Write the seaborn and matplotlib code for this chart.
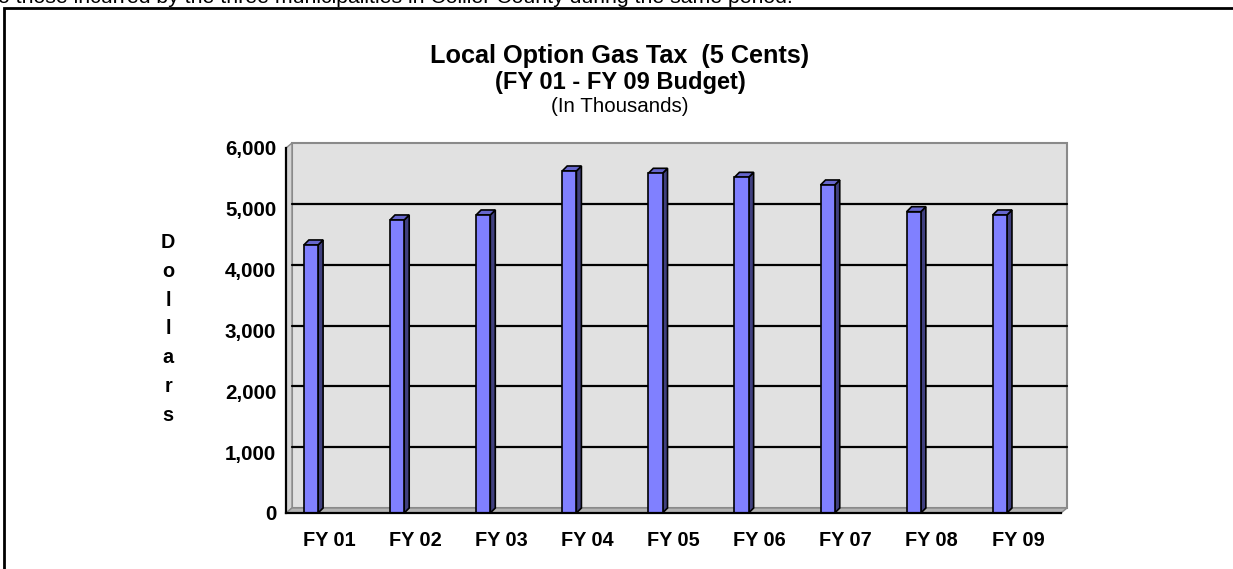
import numpy as np
import matplotlib
matplotlib.use('Agg')
import matplotlib.pyplot as plt
import matplotlib.patches as mpatches
import pandas as pd
import seaborn as sns

# chart data (in thousands of dollars)
years = ['FY 01', 'FY 02', 'FY 03', 'FY 04', 'FY 05', 'FY 06', 'FY 07', 'FY 08', 'FY 09']
revenue = [4406, 4817, 4899, 5622, 5584, 5518, 5392, 4953, 4899]
yticks = [0, 1000, 2000, 3000, 4000, 5000, 6000]

sns.set_style('white')
plt.rcParams['font.family'] = ['Liberation Sans', 'DejaVu Sans']
plt.rcParams['text.color'] = 'black'
plt.rcParams['xtick.color'] = 'black'
plt.rcParams['ytick.color'] = 'black'

W, H = 1233, 569
fig = plt.figure(figsize=(W / 100, H / 100), dpi=100)

# front plane of the chart in pixels
x0, x1, y0, y1 = 286, 1061, 513, 148
ax = fig.add_axes([x0 / W, 1 - y0 / H, (x1 - x0) / W, (y0 - y1) / H])
ax.set_xlim(-0.5, 8.5)
ax.set_ylim(0, 6000)
ax.patch.set_visible(False)

# depth offset (px -> data units)
dx = 6 * 9 / (x1 - x0)
dy = 5 * 6000 / (y0 - y1)

# back wall, side wall, floor
ax.add_patch(mpatches.Rectangle((-0.5 + dx, dy), 9, 6000, facecolor='#e1e1e1',
                                edgecolor='#8a8a8a', lw=1.5, zorder=0, clip_on=False))
ax.add_patch(mpatches.Polygon([(-0.5, 0), (-0.5 + dx, dy), (-0.5 + dx, 6000 + dy), (-0.5, 6000)],
                              closed=True, facecolor='#d4d4d4', edgecolor='#8a8a8a', lw=1,
                              zorder=0.5, clip_on=False))
ax.add_patch(mpatches.Polygon([(-0.5, 0), (8.5, 0), (8.5 + dx, dy), (-0.5 + dx, dy)],
                              closed=True, facecolor='#b4b4b4', edgecolor='#8a8a8a', lw=1,
                              zorder=0.5, clip_on=False))
for t in yticks[1:-1]:
    ax.plot([-0.5 + dx, 8.5 + dx], [t + dy, t + dy], color='black', lw=1.6, zorder=0.7, clip_on=False)

df = pd.DataFrame({'year': years, 'revenue': revenue})
sns.barplot(data=df, x='year', y='revenue', ax=ax, color='#8080ff', saturation=1,
            width=0.165, edgecolor='black', linewidth=1.2, zorder=2)

# shift the bars left like the original and add the 3-d faces
bdx = 5 * 9 / (x1 - x0)
bdy = 5 * 6000 / (y0 - y1)
for p in ax.patches:
    if not isinstance(p, mpatches.Rectangle) or p.get_zorder() != 2:
        continue
    p.set_x(p.get_x() - 0.21)
    bx, bw, bh = p.get_x(), p.get_width(), p.get_height()
    side = [(bx + bw, 0), (bx + bw + bdx, bdy), (bx + bw + bdx, bh + bdy), (bx + bw, bh)]
    top = [(bx, bh), (bx + bw, bh), (bx + bw + bdx, bh + bdy), (bx + bdx, bh + bdy)]
    ax.add_patch(mpatches.Polygon(side, closed=True, facecolor='#40407f', edgecolor='black',
                                  lw=1.2, zorder=1.9))
    ax.add_patch(mpatches.Polygon(top, closed=True, facecolor='#6666cc', edgecolor='black',
                                  lw=1.2, zorder=1.9))

for s in ['top', 'right']:
    ax.spines[s].set_visible(False)
for s in ['left', 'bottom']:
    ax.spines[s].set_color('black')
    ax.spines[s].set_linewidth(1.6)

ax.set_yticks(yticks)
ax.set_yticklabels(['{:,}'.format(t) for t in yticks], fontweight='bold', fontsize=14.8)
ax.tick_params(axis='y', direction='out', length=6, width=1.4, pad=1, color='black')
ax.set_xticks(np.arange(-0.5, 9, 1))
ax.set_xticklabels([])
ax.tick_params(axis='x', which='major', direction='out', length=7, width=1.4, color='black')
ax.set_xticks(np.arange(9), minor=True)
ax.set_xticklabels(years, minor=True, fontweight='bold', fontsize=14.3)
ax.tick_params(axis='x', which='minor', length=0, pad=13)
ax.set_xlabel('')
ax.set_ylabel('')

fig.text(168 / W, 1 - 329 / H, '\n'.join('Dollars'), ha='center', va='center',
         fontweight='bold', fontsize=14.3, linespacing=1.66)

cx = 620 / W
fig.text(cx, 1 - 56 / H, 'Local Option Gas Tax  (5 Cents)', ha='center', va='center',
         fontweight='bold', fontsize=18.2)
fig.text(cx, 1 - 83 / H, '(FY 01 - FY 09 Budget)', ha='center', va='center',
         fontweight='bold', fontsize=17)
fig.text(cx, 1 - 107 / H, '(In Thousands)', ha='center', va='center', fontsize=14.8)

# clipped line of page text above the chart frame and the frame itself
fig.text(-0.002, 1 - 3 / H, 'o those incurred by the three municipalities in Collier County during the same period.',
         ha='left', va='baseline', fontsize=15.3)
fig.add_artist(mpatches.Rectangle((4 / W, -0.1), 1.2, 1.1 - 8 / H, transform=fig.transFigure,
                                  facecolor='none', edgecolor='black', lw=2))

fig.savefig('out.png', dpi=100)
